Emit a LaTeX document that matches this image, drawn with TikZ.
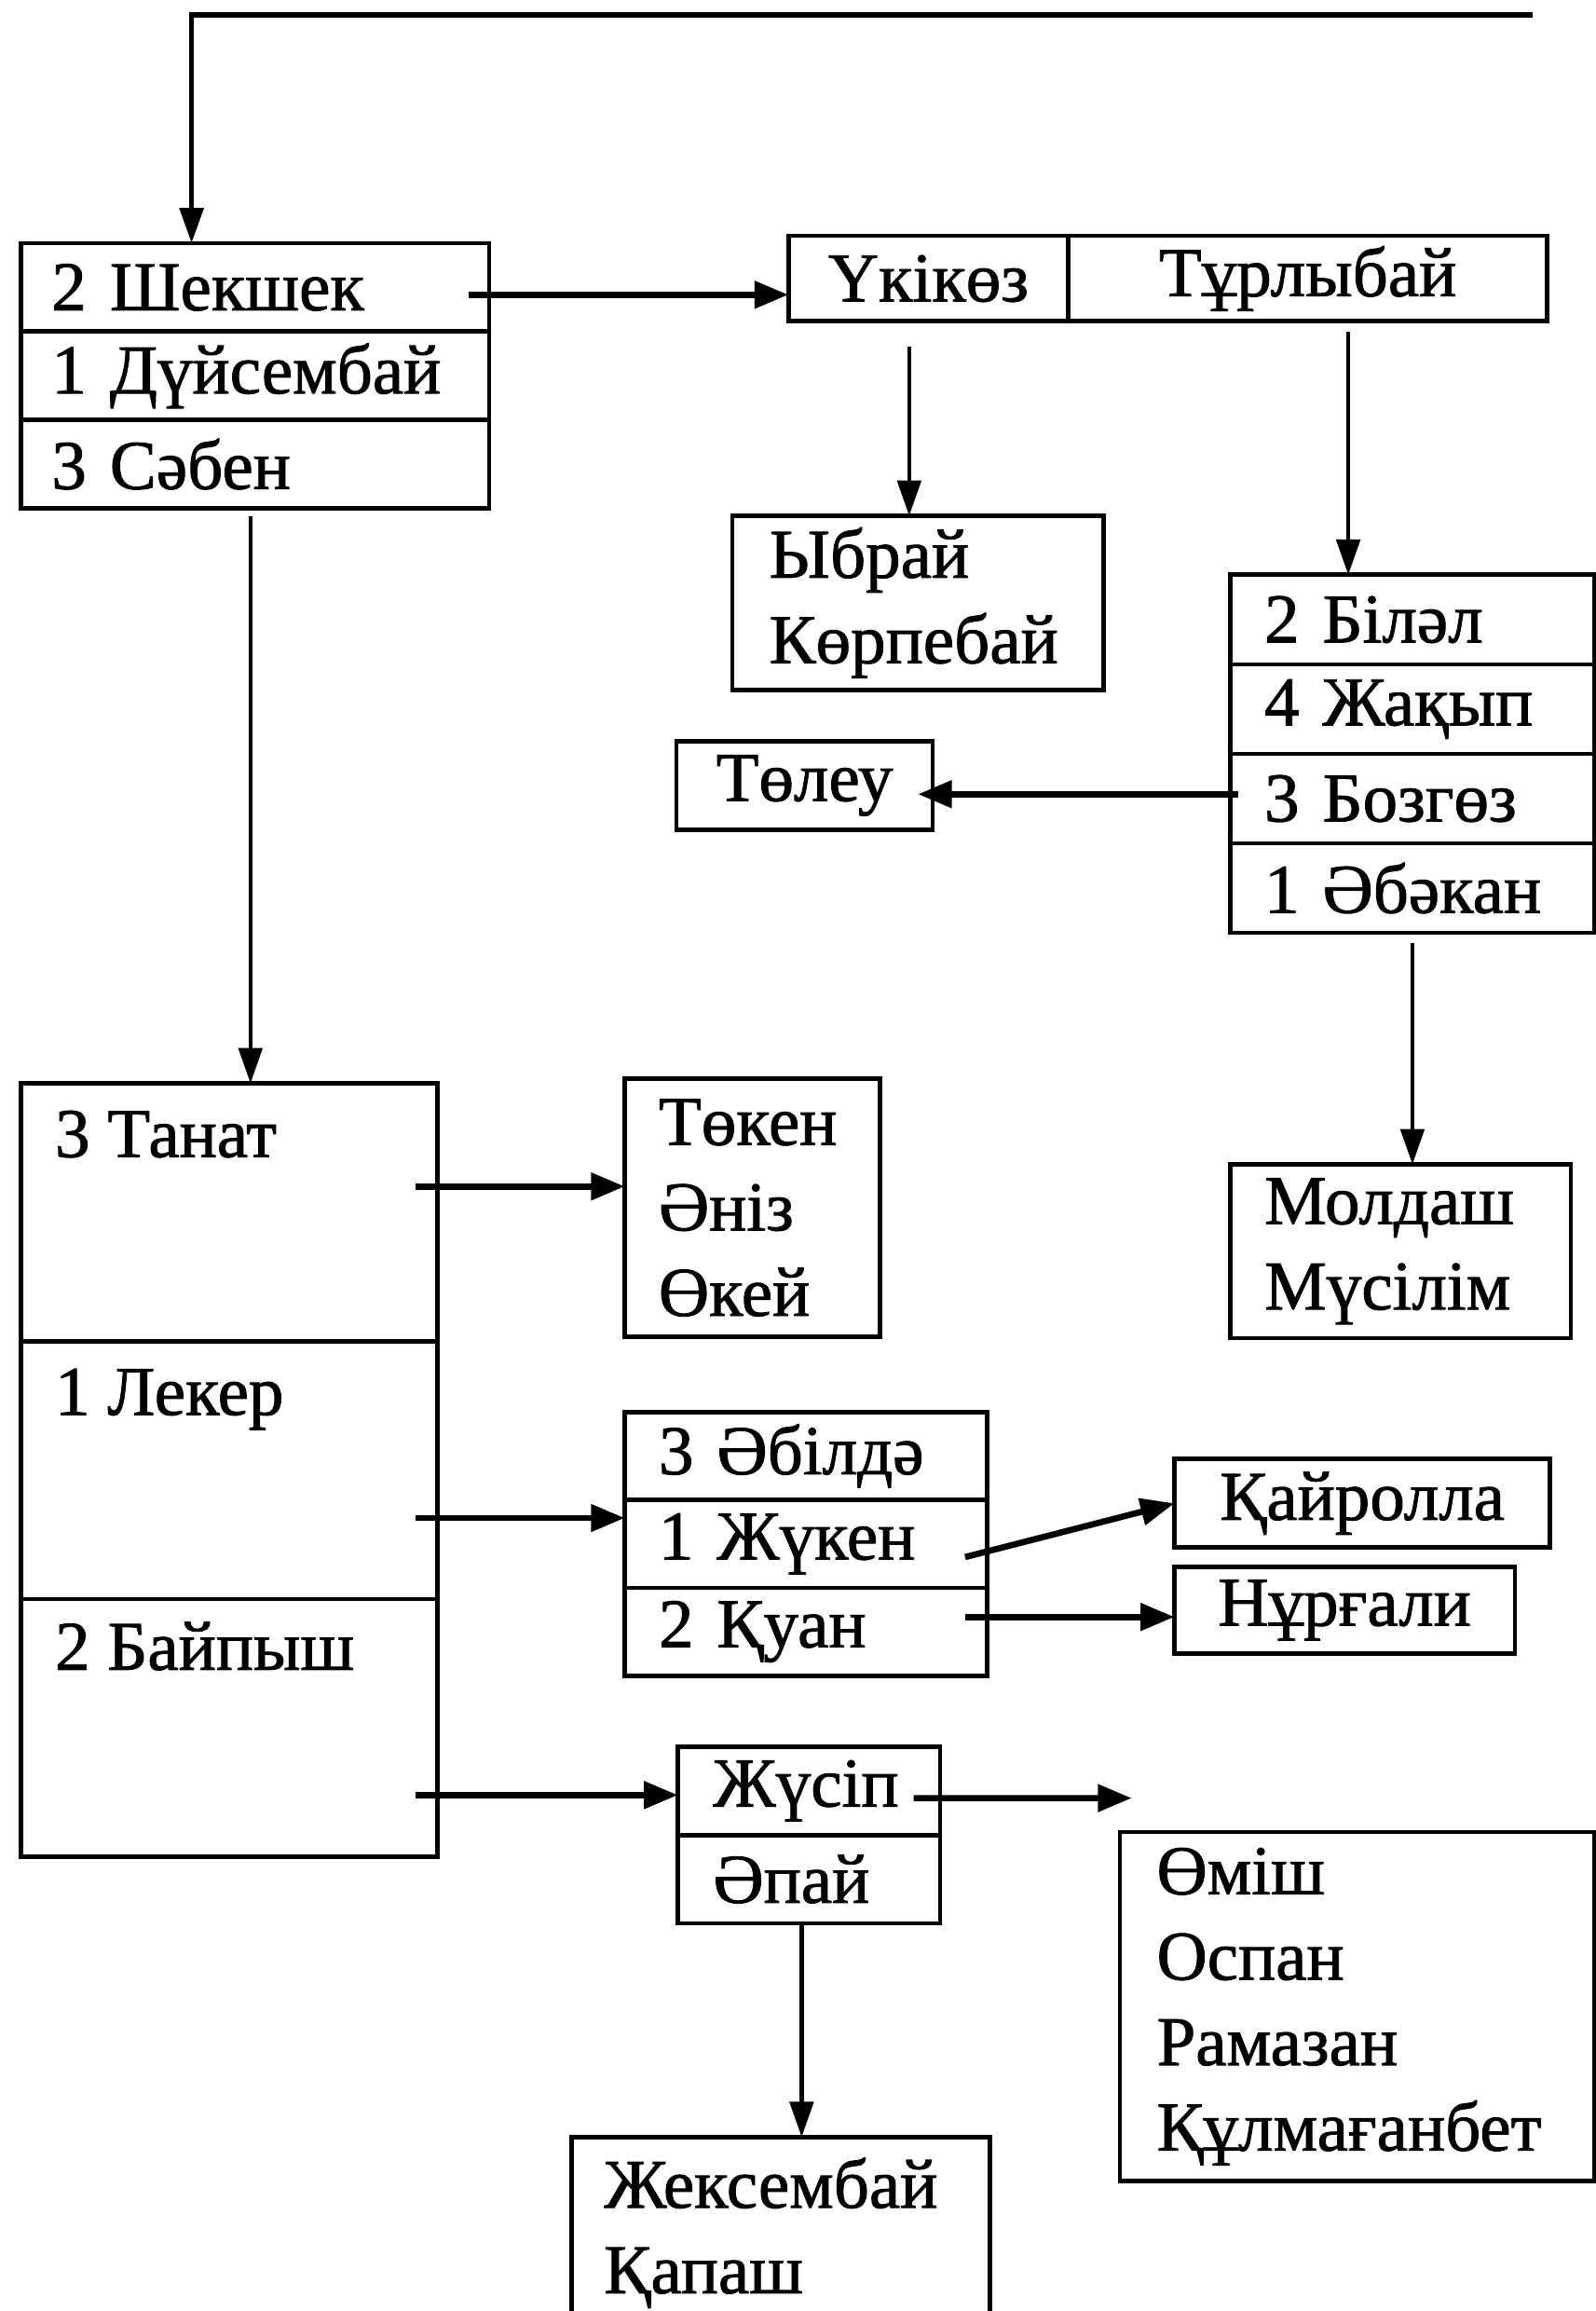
\documentclass[tikz,border=0pt]{standalone}
\usepackage{fontspec}
\setmainfont[FakeBold=1.2,AutoFakeBold=1.2]{Liberation Serif}
\usetikzlibrary{arrows.meta,calc}
\newcommand\fs{\fontsize{27}{33}\selectfont\bfseries}
\tikzset{
  box/.style={draw, line width=1.7pt, anchor=north west, inner ysep=0pt, outer sep=0pt, font=\fs},
  lbox/.style={box, align=left, inner xsep=#1},
  cbox/.style={box, align=center, inner xsep=0pt},
  lbl/.style={anchor=base west, font=\fs, inner sep=0pt},
  arr/.style={-{Triangle[length=0.48cm,width=0.32cm]}, line width=1.6pt},
  harr/.style={-{Triangle[length=0.46cm,width=0.36cm]}, line width=2.4pt},
}
\begin{document}
\begin{tikzpicture}[x=0.02cm,y=-0.02cm]
\useasboundingbox (0,0) rectangle (1083,1568);
\clip (0,0) rectangle (1083,1568);
% left column top box
\node[lbox=0.42cm, text width=5.52cm, minimum height=1.2cm] (a1) at (14,165) {2 Шекшек};
\node[lbox=0.42cm, text width=5.52cm, minimum height=1.2cm] (a2) at (a1.south west) {1 Дүйсембай};
\node[lbox=0.42cm, text width=5.52cm, minimum height=1.2cm] (a3) at (a2.south west) {3 Сәбен};
% top right pair
\node[cbox, minimum width=3.8cm, minimum height=1.16cm] (b1) at (535,160) {Үкікөз};
\node[cbox, minimum width=6.5cm, minimum height=1.16cm] (b2) at (b1.north east) {Тұрлыбай};
\node[lbox=0.5cm, text width=4.04cm, minimum height=2.36cm] (ib) at (497,350) {Ыбрай\\Көрпебай};
% right column
\node[lbox=0.46cm, text width=4.02cm, minimum height=1.215cm] (c1) at (835,390) {2 Біләл};
\node[lbox=0.46cm, text width=4.02cm, minimum height=1.215cm] (c2) at (c1.south west) {4 Жақып};
\node[lbox=0.46cm, text width=4.02cm, minimum height=1.215cm] (c3) at (c2.south west) {3 Бозгөз};
\node[lbox=0.46cm, text width=4.02cm, minimum height=1.215cm] (c4) at (c3.south west) {1 Әбәкан};
\node[cbox, minimum width=3.48cm, minimum height=1.2cm] (tl) at (459,503) {Төлеу};
\node[lbox=0.46cm, text width=3.7cm, minimum height=2.36cm] (md) at (835,790) {Молдаш\\Мүсілім};
% big left box
\node[box, minimum width=5.66cm, minimum height=3.5cm] (d1) at (14,735) {};
\node[box, minimum width=5.66cm, minimum height=3.5cm] (d2) at (d1.south west) {};
\node[box, minimum width=5.66cm, minimum height=3.5cm] (d3) at (d2.south west) {};
\node[lbl] (d1t) at ($(d1.north west)+(23,50)$) {3 Танат};
\node[lbl] (d2t) at ($(d2.north west)+(23,50)$) {1 Лекер};
\node[lbl] (d3t) at ($(d3.north west)+(23,48)$) {2 Байпыш};
% middle
\node[lbox=0.46cm, text width=2.54cm, minimum height=3.5cm] (tk) at (424,732) {Төкен\\Әніз\\Өкей};
\node[lbox=0.46cm, text width=4.0cm, minimum height=1.193cm] (e1) at (424,958) {3 Әбілдә};
\node[lbox=0.46cm, text width=4.0cm, minimum height=1.193cm] (e2) at (e1.south west) {1 Жүкен};
\node[lbox=0.46cm, text width=4.0cm, minimum height=1.193cm] (e3) at (e2.south west) {2 Қуан};
\node[cbox, minimum width=5.1cm, minimum height=1.2cm] (kr) at (797,990) {Қайролла};
\node[cbox, minimum width=4.62cm, minimum height=1.18cm] (nr) at (797,1063) {Нұрғали};
\node[lbox=0.48cm, text width=2.6cm, minimum height=1.2cm] (f1) at (460,1185) {Жүсіп};
\node[lbox=0.48cm, text width=2.6cm, minimum height=1.2cm] (f2) at (f1.south west) {Әпай};
\node[lbox=0.5cm, text width=5.44cm, minimum height=4.74cm] (om) at (760,1243) {Өміш\\Оспан\\Рамазан\\Құлмағанбет};
\node[lbox=0.44cm, text width=4.8cm, minimum height=2.6cm] (jx) at (388,1450) {Жексембай\\Қапаш};
% connectors
\coordinate (topR) at (1040,10);
\draw[arr, line width=2pt] (topR) -| ($(a1.north west)+(116,0)$);
\draw[harr] ($(a1.east)+(-14,5)$) coordinate (s1) -- (s1 -| b1.west);
\draw[arr] ($(b1.south)+(-13,17)$) coordinate (s2) -- (s2 |- ib.north);
\draw[arr] ($(b2.south)+(27.5,7)$) coordinate (s3) -- (s3 |- c1.north);
\draw[harr, shorten >=-0.2cm] ($(c3.west)+(5,-3)$) coordinate (s4) -- (s4 -| tl.east);
\draw[arr] ($(c4.south)+(0,7)$) coordinate (s5) -- (s5 |- md.north);
\draw[arr] ($(a3.south)+(-3,5)$) coordinate (s6) -- (s6 |- d1.north);
\draw[harr] ($(d1.north east)+(-15,70)$) coordinate (s7) -- (s7 -| tk.west);
\draw[harr] ($(d2.north east)+(-15,120)$) coordinate (s8) -- (s8 -| e2.west);
\draw[harr] ($(e2.east)+(-15,9)$) -- (kr.west);
\draw[harr] ($(e3.east)+(-15,-10)$) coordinate (s9) -- (s9 -| nr.west);
\draw[harr] ($(d3.north east)+(-15,133)$) coordinate (s10) -- (s10 -| f1.west);
\coordinate (fe) at (768,1220);
\draw[harr] ($(f1.east)+(-18,5)$) -- (fe);
\draw[arr] ($(f2.south)+(-5,0)$) coordinate (s11) -- (s11 |- jx.north);
\end{tikzpicture}
\end{document}
